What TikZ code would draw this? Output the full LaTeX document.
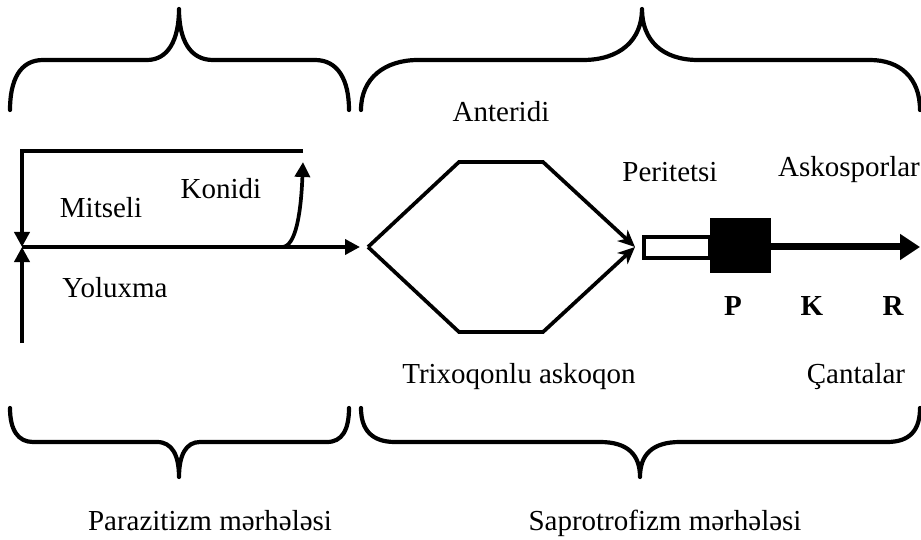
\documentclass[tikz,border=0pt]{standalone}
\usepackage{fontspec}
\setmainfont{Liberation Serif}
\usetikzlibrary{arrows.meta}
\begin{document}
\begin{tikzpicture}[x=1pt,y=-1pt,
  lbl/.style={anchor=base,inner sep=0pt,font=\fontsize{29}{34}\selectfont},
  blbl/.style={lbl,font=\fontsize{29}{34}\selectfont\bfseries},
  brace/.style={line width=4.2pt,line cap=round,line join=round},
  ln/.style={line width=3.7pt},
  arr/.style={ln,-{Triangle[length=15pt,width=15pt]}},
  harr/.style={ln,line join=miter,-{Stealth[length=17pt,width=15pt,inset=5pt]}},
  bigarr/.style={line width=7pt,-{Triangle[length=20pt,width=25pt]}},
  whitebox/.style={draw,line width=3.2pt,fill=white,inner sep=0pt,outer sep=0pt,minimum width=66pt,minimum height=21pt},
  blackbox/.style={fill=black,inner sep=0pt,outer sep=0pt,minimum width=61pt,minimum height=55pt}]
\useasboundingbox[fill=white] (0,0) rectangle (921,540);

% braces
\draw[brace] (10,110) .. controls (10,80) and (20,60) .. (43,60) -- (147,60)
  .. controls (168,60) and (179,40) .. (179,9) .. controls (179,40) and (190,60) .. (213,60)
  -- (315,60) .. controls (338,60) and (349,80) .. (349,110);
\draw[brace] (361,110) .. controls (361,78) and (385,60) .. (418,60) -- (583,60)
  .. controls (620,60) and (642,40) .. (642,9) .. controls (642,40) and (662,60) .. (698,60)
  -- (870,60) .. controls (900,60) and (920,78) .. (920,110);
\draw[brace] (10,408) .. controls (10,430) and (18,442) .. (33,442) -- (157,442)
  .. controls (172,442) and (179,455) .. (179,477) .. controls (179,455) and (186,442) .. (200,442)
  -- (327,442) .. controls (342,442) and (349,430) .. (349,408);
\draw[brace] (361,408) .. controls (361,430) and (372,442) .. (395,442) -- (600,442)
  .. controls (628,442) and (640,455) .. (640,477) .. controls (640,455) and (652,442) .. (680,442)
  -- (887,442) .. controls (910,442) and (920,430) .. (920,408);

% coordinates
\coordinate (tr) at (303,151);
\coordinate (tl) at (22,151);
\coordinate (jn) at (22,247);
\coordinate (bl) at (22,343);
\coordinate (ks) at (255,247);
\coordinate (kb) at (282,247);
\coordinate (kt) at (303,162);
\coordinate (ma) at (360,247);
\coordinate (hl) at (368,247);
\coordinate (htl) at (459,162);
\coordinate (htr) at (543,162);
\coordinate (hbl) at (459,332);
\coordinate (hbr) at (543,332);
\coordinate (hr) at (635,247);
\coordinate (ae) at (920,247);

% left part
\draw[arr,line join=miter] (tr) -- (tl) -- (jn);
\draw[arr] (bl) -- (jn);
\draw[arr] (jn) -- (ma);
\draw[arr] (ks) -- (kb) .. controls (296,247) and (301,212) .. (kt);

% hexagon
\draw[harr] (hl) -- (htl) -- (htr) -- (hr);
\draw[harr] (hl) -- (hbl) -- (hbr) -- (hr);

% peritetsi
\node[whitebox] (wb) at (677,247.5) {};
\node[blackbox] (bb) at (740.5,245.5) {};
\draw[bigarr] (bb.east |- ae) -- (ae);

% labels
\node[lbl] (mitseli) at (101,218) {Mitseli};
\node[lbl] (konidi) at (221,199) {Konidi};
\node[lbl] (yoluxma) at (115,297) {Yoluxma};
\node[lbl] (anteridi) at (501,122) {Anteridi};
\node[lbl] (trix) at (519,383) {Trixoqonlu askoqon};
\node[lbl] (perit) at (670,182) {Peritetsi};
\node[lbl] (askos) at (849,177) {Askosporlar};
\node[blbl] (P) at (733,315) {P};
\node[blbl] (K) at (812,315) {K};
\node[blbl] (R) at (893,315) {R};
\node[lbl] (cant) at (856,383) {Çantalar};
\node[lbl] (par) at (210,530) {Parazitizm mərhələsi};
\node[lbl] (sap) at (665,530) {Saprotrofizm mərhələsi};
\end{tikzpicture}
\end{document}
